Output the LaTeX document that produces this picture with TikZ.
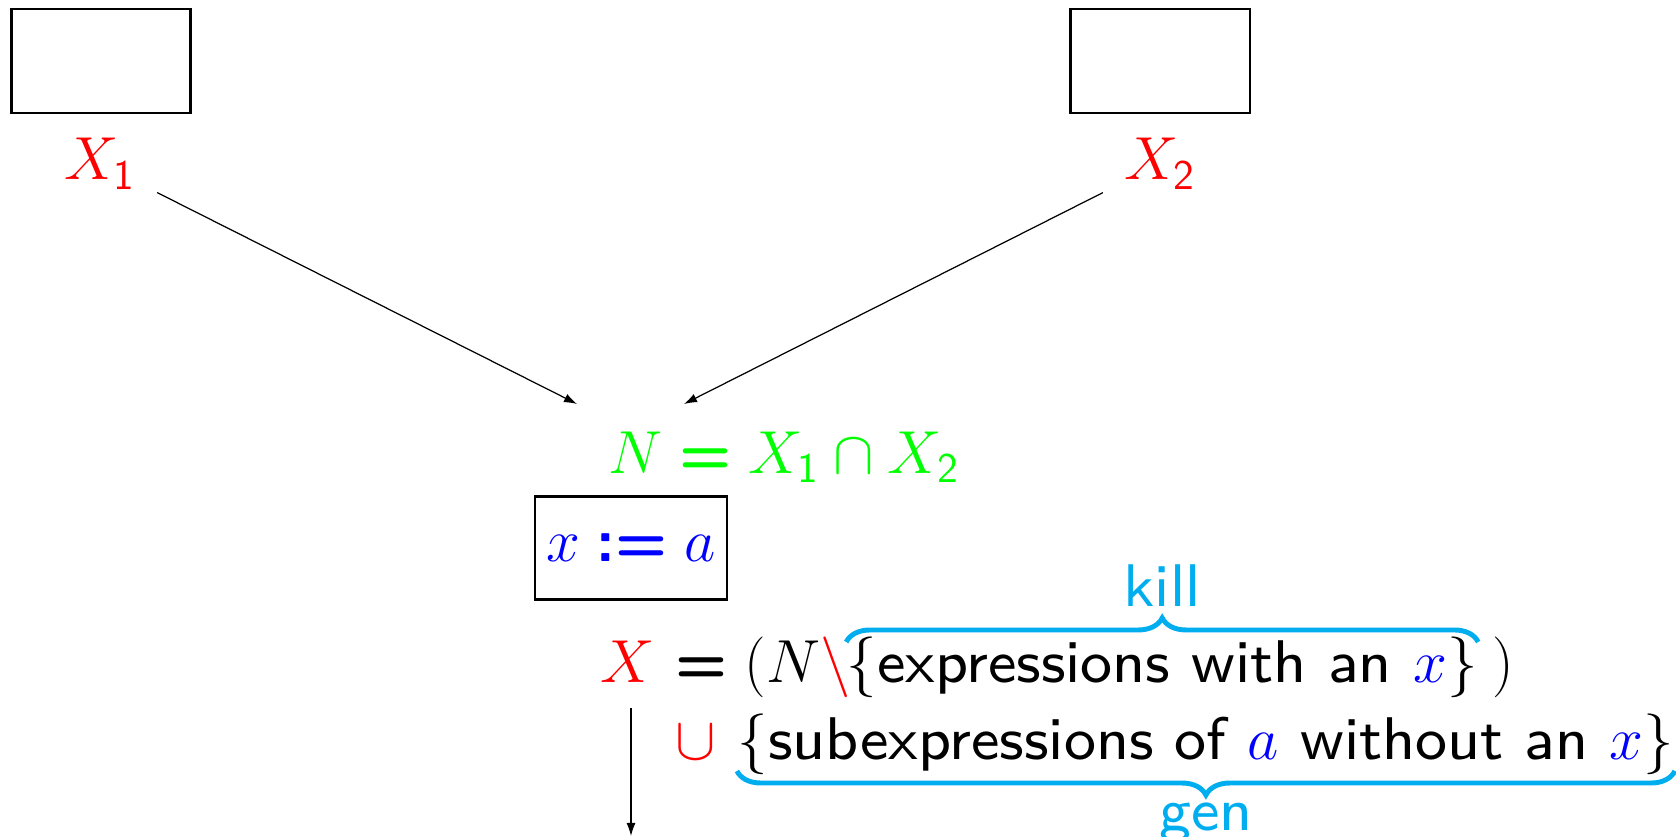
\documentclass[tikz,border=0pt]{standalone}
\usepackage{amsmath,amssymb}
\usepackage{graphicx}
\usepackage{xcolor}
\usetikzlibrary{arrows.meta,positioning,decorations.pathreplacing}
\definecolor{braceblue}{RGB}{0,174,239}
% wide sans text (small design size, enlarged)
\newcommand{\wtext}[1]{\text{\scalebox{2.14}{\fontsize{8}{10}\selectfont\sffamily #1}}}
\newcommand{\beq}{\mathrel{\textsf{\bfseries =}}}

\begin{document}
\begin{tikzpicture}[x=0.01cm, y=-0.01cm,
  box/.style={rectangle, draw, line width=0.6pt, minimum width=1.79cm, minimum height=1.04cm},
  lbl/.style={font=\sffamily\LARGE, inner sep=0pt},
  arrow/.style={-{Latex[length=1.3mm,width=0.9mm]}, line width=0.35pt},
  kbrace/.style={decorate, decoration={brace, amplitude=0.24cm}, line width=1.4pt, draw=braceblue},
  gbrace/.style={decorate, decoration={brace, mirror, amplitude=0.24cm}, line width=1.4pt, draw=braceblue}
]
\useasboundingbox (0,0) rectangle (1676,837);

% Predecessor blocks
\node[box] (b1) at (101,61) {};
\node[box] (b2) at (1160,61) {};
\node[lbl, text=red, anchor=base] (x1) at (100,180) {$X_{\textsf{1}}$};
\node[lbl, text=red, anchor=base] (x2) at (1160,180) {$X_{\textsf{2}}$};

% Meet of the incoming sets
\node[lbl, text=green, anchor=base west] (meet) at (608,473) {$N \beq X_{\textsf{1}} \cap X_{\textsf{2}}$};
\coordinate (in1) at (577,404);
\coordinate (in2) at (684,404);

% Assignment
\node[box, lbl, minimum width=1.92cm, minimum height=1.03cm, text=blue] (assign) at (631,548) {$x \mathrel{\textsf{\bfseries :=}} a$};

% Transfer function
\node[lbl, anchor=base west] (eq) at (675,682) {$\beq(N{\color{red}\setminus}$};
\node[lbl, text=red, anchor=base east] (lhs) at ([xshift=-0.2cm]eq.base west) {$X$};
\node[lbl, anchor=base west] (kset) at ([xshift=-0.05cm]eq.base east) {$\{\wtext{expressions with an }{\color{blue}x}\}$};
\node[lbl, anchor=base west] (close) at ([xshift=0.14cm]kset.base east) {$)$};
\node[lbl, text=red, anchor=base west] (cup) at (675,759) {$\cup$};
\node[lbl, anchor=base west] (gset) at ([xshift=0.2cm]cup.base east) {$\{\wtext{subexpressions of }{\color{blue}a}\wtext{ without an }{\color{blue}x}\}$};

% Braces
\draw[kbrace] ([yshift=0.40cm]kset.west |- eq.base) -- ([yshift=0.40cm]kset.east |- eq.base) node[midway, above=0.33cm, lbl, text=braceblue] {\wtext{kill}};
\draw[gbrace] ([yshift=-0.12cm]gset.west |- cup.base) -- ([yshift=-0.12cm]gset.east |- cup.base) node[midway, below=0.29cm, lbl, text=braceblue] {\wtext{gen}};

% Out edge
\coordinate (exit) at (631,708);
\coordinate (out) at (631,836);

% Connections
\draw[arrow, shorten <=0.23cm] (x1) -- (in1);
\draw[arrow, shorten <=0.23cm] (x2) -- (in2);
\draw[arrow] (exit) -- (out);
\end{tikzpicture}
\end{document}
